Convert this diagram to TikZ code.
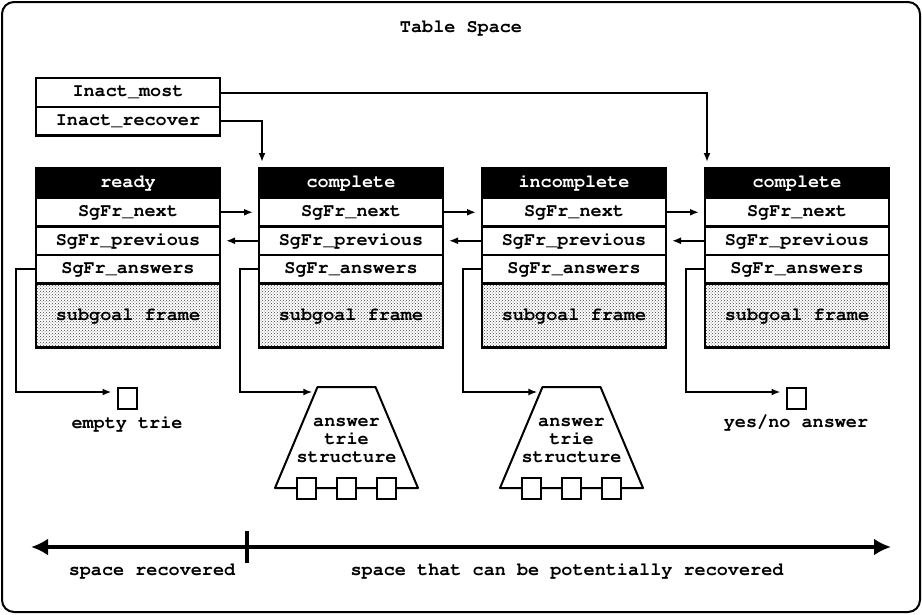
\documentclass[tikz,border=0pt]{standalone}
\usepackage[T1]{fontenc}
\usetikzlibrary{arrows,arrows.meta,shapes,positioning,patterns}

\newcommand{\cellfont}{\fontfamily{pcr}\fontseries{b}\fontsize{18.5}{18}\selectfont}
\tikzstyle{cell}=[draw, line width=2.2pt, minimum width=184pt, minimum height=28.5pt,
inner sep=0pt, outer sep=0pt, anchor=north, text centered]
\tikzstyle{headcell}=[cell, fill=black, text=white, minimum height=30pt]
\tikzstyle{framecell}=[cell, pattern=crosshatch dots, pattern color=black!75, minimum height=64pt]
\tikzstyle{ptr}=[-{Latex[length=9pt,width=7pt]}, line width=2pt]
\tikzstyle{leaf}=[draw, line width=2pt, fill=white, minimum width=19pt, minimum height=21pt, inner sep=0pt]
\tikzstyle{trie}=[minimum width=143pt, minimum height=101pt, inner sep=0pt, outer sep=0pt]
\tikzstyle{trieline}=[line width=2pt, line join=round]
\tikzstyle{label}=[inner sep=0pt]

\begin{document}
\begin{tikzpicture}[x=1pt, y=-1pt, every node/.style={font=\cellfont}]
	\useasboundingbox (0,0) rectangle (922,614);
	\draw[line width=2pt, rounded corners=12pt] (2,2) rectangle (920,612);

	\node[label] (title) at (461,28) {Table Space};

	% inactive pointers
	\node[cell, minimum height=29pt] (most) at (128,78) {Inact\_most};
	\node[cell, below=0pt of most] (recover) {Inact\_recover};

	% subgoal frames
	\node[headcell] (h1) at (128,168) {ready};
	\node[cell, below=0pt of h1] (n1) {SgFr\_next};
	\node[cell, below=0pt of n1] (p1) {SgFr\_previous};
	\node[cell, below=0pt of p1] (a1) {SgFr\_answers};
	\node[framecell, below=0pt of a1] (f1) {subgoal frame};

	\node[headcell, right=39pt of h1] (h2) {complete};
	\node[cell, below=0pt of h2] (n2) {SgFr\_next};
	\node[cell, below=0pt of n2] (p2) {SgFr\_previous};
	\node[cell, below=0pt of p2] (a2) {SgFr\_answers};
	\node[framecell, below=0pt of a2] (f2) {subgoal frame};

	\node[headcell, right=39pt of h2] (h3) {incomplete};
	\node[cell, below=0pt of h3] (n3) {SgFr\_next};
	\node[cell, below=0pt of n3] (p3) {SgFr\_previous};
	\node[cell, below=0pt of p3] (a3) {SgFr\_answers};
	\node[framecell, below=0pt of a3] (f3) {subgoal frame};

	\node[headcell, right=39pt of h3] (h4) {complete};
	\node[cell, below=0pt of h4] (n4) {SgFr\_next};
	\node[cell, below=0pt of n4] (p4) {SgFr\_previous};
	\node[cell, below=0pt of p4] (a4) {SgFr\_answers};
	\node[framecell, below=0pt of a4] (f4) {subgoal frame};

	\draw[ptr, shorten >=6pt] (most.east) -| ([xshift=2pt]h4.north west);
	\draw[ptr, shorten >=6pt] (recover.east) -| ([xshift=3pt]h2.north west);

	\draw[ptr, shorten >=6pt] (n1.east) -- (n2.west);
	\draw[ptr, shorten >=6pt] (n2.east) -- (n3.west);
	\draw[ptr, shorten >=6pt] (n3.east) -- (n4.west);
	\draw[ptr, shorten >=6pt] (p2.west) -- (p1.east);
	\draw[ptr, shorten >=6pt] (p3.west) -- (p2.east);
	\draw[ptr, shorten >=6pt] (p4.west) -- (p3.east);

	% answers
	\node[leaf] (e1) at (127,398) {};
	\node[label, below=6pt of e1] (e1txt) {empty trie};
	\node[leaf] (e4) at (796,398) {};
	\node[label, below=6pt of e4] (e4txt) {yes/no answer};

	\node[trie] (t2) at (346.5,437.5) {};
	\draw[trieline] (t2.south west) -- ([xshift=42.5pt]t2.north west) -- ([xshift=-42.5pt]t2.north east) -- (t2.south east) -- cycle;
	\node[label, align=center, yshift=-3pt] (t2txt) at (t2) {answer\\trie\\structure};
	\node[leaf] (t2a) at ([xshift=-40pt]t2.south) {};
	\node[leaf] (t2b) at (t2.south) {};
	\node[leaf] (t2c) at ([xshift=40pt]t2.south) {};

	\node[trie] (t3) at (571.5,437.5) {};
	\draw[trieline] (t3.south west) -- ([xshift=42.5pt]t3.north west) -- ([xshift=-42.5pt]t3.north east) -- (t3.south east) -- cycle;
	\node[label, align=center, yshift=-3pt] (t3txt) at (t3) {answer\\trie\\structure};
	\node[leaf] (t3a) at ([xshift=-40pt]t3.south) {};
	\node[leaf] (t3b) at (t3.south) {};
	\node[leaf] (t3c) at ([xshift=40pt]t3.south) {};

	\draw[ptr, shorten >=5pt] (a1.west) -- ++(-20,0) |- ([yshift=6pt]e1.west);
	\draw[ptr, shorten >=3pt] (a2.west) -- ++(-19,0) |- ([xshift=40.4pt, yshift=-5pt]t2.north west);
	\draw[ptr, shorten >=3pt] (a3.west) -- ++(-19,0) |- ([xshift=40.4pt, yshift=-5pt]t3.north west);
	\draw[ptr, shorten >=5pt] (a4.west) -- ++(-19,0) |- ([yshift=6pt]e4.west);

	% space line
	\coordinate (sl) at (31,547);
	\coordinate (sr) at (891,547);
	\coordinate (tk) at (247,547);
	\draw[line width=4.5pt, {Latex[length=17pt,width=17pt]}-{Latex[length=17pt,width=17pt]}] (sl) -- (sr);
	\draw[line width=3.5pt] ([yshift=16pt]tk) -- ([yshift=-16pt]tk);
	\node[label] (rec) at (152,571) {space recovered};
	\node[label] (pot) at (567,571) {space that can be potentially recovered};
\end{tikzpicture}
\end{document}
